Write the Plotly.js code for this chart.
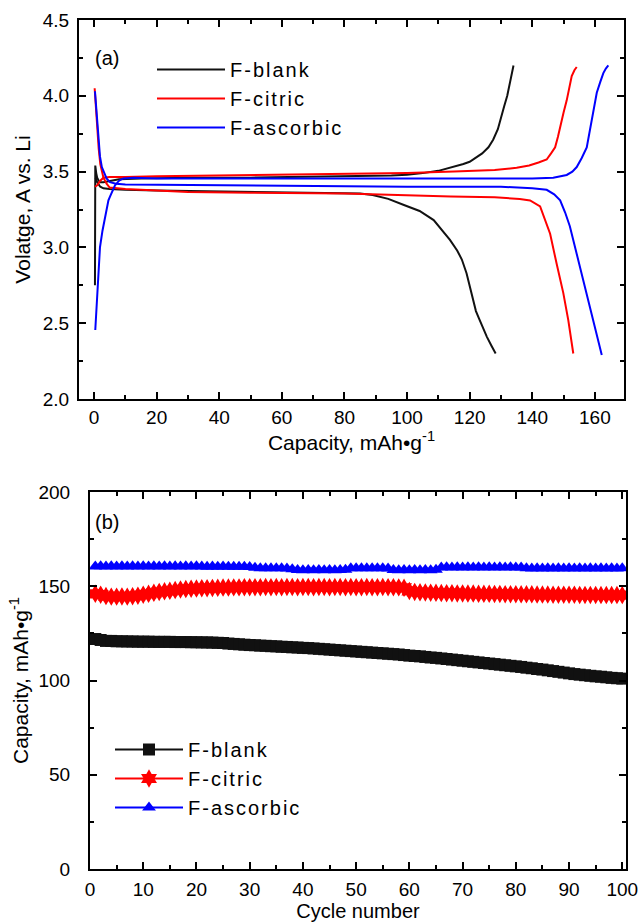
<!DOCTYPE html>
<html>
<head>
<meta charset="utf-8">
<script src="https://cdn.plot.ly/plotly-3.0.1.min.js"></script>
<style>
html,body{margin:0;padding:0;background:#fff;}
#chart{width:641px;height:924px;}
text.legendtext, text.legend2text{letter-spacing:2px;}
</style>
</head>
<body>
<div id="chart"></div>
<script>
// ---- (a) charge / discharge curves ----
const seriesNames = ["F-blank", "F-citric", "F-ascorbic"];

const blankChargeX = [0.3, 0.3, 0.35, 0.4, 0.7, 1, 1.5, 2, 3, 5, 8, 15, 30, 50, 70, 85, 95, 100, 105, 110, 115, 118, 120, 122, 124, 126, 127.5, 129, 130, 131, 132, 133, 134];
const blankChargeY = [2.75, 3.0, 3.3, 3.54, 3.49, 3.46, 3.44, 3.43, 3.43, 3.44, 3.45, 3.455, 3.46, 3.46, 3.465, 3.47, 3.475, 3.48, 3.49, 3.505, 3.53, 3.55, 3.565, 3.59, 3.62, 3.66, 3.71, 3.78, 3.86, 3.93, 4.0, 4.1, 4.2];
const blankDischargeX = [0.5, 1, 2, 3, 5, 10, 20, 40, 60, 75, 85, 89, 94, 99, 104, 108.5, 111, 113.7, 116, 117.5, 119, 120, 121, 122, 123, 124, 125.5, 127, 128.3];
const blankDischargeY = [3.46, 3.43, 3.40, 3.39, 3.385, 3.38, 3.375, 3.37, 3.365, 3.36, 3.355, 3.345, 3.32, 3.28, 3.24, 3.18, 3.12, 3.05, 2.98, 2.92, 2.83, 2.75, 2.66, 2.58, 2.53, 2.48, 2.41, 2.35, 2.30];

const citricChargeX = [0.3, 1, 2, 3, 5, 10, 20, 40, 60, 80, 100, 115, 128, 135, 139, 142, 144.6, 146, 147.3, 148.2, 148.9, 150, 151, 152, 152.6, 153.5, 154.2];
const citricChargeY = [3.40, 3.41, 3.44, 3.46, 3.465, 3.465, 3.47, 3.475, 3.48, 3.485, 3.49, 3.50, 3.51, 3.525, 3.54, 3.56, 3.58, 3.62, 3.66, 3.73, 3.80, 3.89, 3.97, 4.07, 4.13, 4.17, 4.19];
const citricDischargeX = [0.2, 0.5, 1, 1.5, 2, 3, 4, 5, 10, 20, 30, 50, 80, 114, 128, 136, 139.3, 142.5, 144, 145.7, 147.8, 149.9, 151.5, 153.1];
const citricDischargeY = [4.05, 3.95, 3.80, 3.65, 3.55, 3.46, 3.42, 3.395, 3.385, 3.375, 3.365, 3.36, 3.355, 3.335, 3.33, 3.32, 3.31, 3.27, 3.19, 3.09, 2.89, 2.70, 2.52, 2.30];

const ascorbicChargeX = [0.4, 0.85, 1.4, 1.9, 2.7, 3.5, 4.6, 5.1, 6, 6.7, 8, 9.4, 12.6, 20, 40, 80, 120, 140, 146.7, 149, 151, 152.8, 154.2, 155.8, 157.4, 158.2, 159, 159.8, 160.6, 161.7, 162.7, 163.5, 164.3];
const ascorbicChargeY = [2.455, 2.65, 2.83, 3.0, 3.11, 3.20, 3.31, 3.335, 3.38, 3.41, 3.44, 3.455, 3.46, 3.455, 3.455, 3.455, 3.455, 3.455, 3.46, 3.47, 3.478, 3.50, 3.53, 3.59, 3.66, 3.75, 3.84, 3.93, 4.02, 4.09, 4.15, 4.18, 4.20];
const ascorbicDischargeX = [0.3, 0.8, 1.3, 1.9, 2.5, 3.2, 4, 5.1, 7, 10, 40, 100, 130, 140, 144.6, 147, 148.9, 150.5, 152, 154.2, 156.3, 158.5, 160.6, 162.2];
const ascorbicDischargeY = [4.03, 3.90, 3.75, 3.60, 3.53, 3.49, 3.455, 3.43, 3.42, 3.415, 3.41, 3.40, 3.40, 3.39, 3.38, 3.35, 3.31, 3.23, 3.14, 2.96, 2.78, 2.61, 2.43, 2.29];

// ---- (b) cycling performance ----
const cycles = [];
for (let i = 1; i <= 100; i++) cycles.push(i);

const blankCapacity = [
 122, 121.5, 121, 121, 120.8, 120.8, 120.7, 120.7, 120.6, 120.6,
 120.6, 120.5, 120.5, 120.5, 120.5, 120.4, 120.4, 120.4, 120.3, 120.3,
 120.2, 120.2, 120.1, 120, 119.9, 119.6, 119.4, 119.2, 119, 118.8,
 118.7, 118.5, 118.4, 118.2, 118.1, 117.9, 117.8, 117.6, 117.5, 117.3,
 117.2, 117, 116.8, 116.6, 116.4, 116.2, 116, 115.8, 115.6, 115.4,
 115.2, 115, 114.8, 114.6, 114.4, 114.2, 114, 113.8, 113.5, 113.2,
 113, 112.8, 112.5, 112.2, 112, 111.7, 111.4, 111.1, 110.8, 110.5,
 110.2, 109.9, 109.6, 109.3, 109, 108.7, 108.4, 108.1, 107.8, 107.5,
 107.2, 106.8, 106.5, 106.1, 105.8, 105.4, 105, 104.6, 104.2, 103.8,
 103.4, 103.1, 102.8, 102.5, 102.2, 102, 101.7, 101.4, 101.2, 101
];
const citricCapacity = [
 146, 145.5, 144.8, 144.5, 144.5, 144.6, 144.5, 144.7, 145, 145.5,
 146, 146.5, 147, 147.3, 147.6, 148, 148.3, 148.5, 148.7, 148.8,
 149, 149, 149.1, 149.2, 149.3, 149.3, 149.4, 149.4, 149.5, 149.5,
 149.5, 149.5, 149.6, 149.5, 149.6, 149.5, 149.6, 149.6, 149.5, 149.6,
 149.6, 149.5, 149.6, 149.6, 149.5, 149.6, 149.6, 149.5, 149.6, 149.5,
 149.5, 149.6, 149.5, 149.5, 149.6, 149.5, 149.5, 149.4, 149.2, 147.5,
 147, 146.8, 146.7, 146.6, 146.5, 146.4, 146.3, 146.3, 146.2, 146.2,
 146.1, 146.1, 146, 146, 146, 145.9, 145.9, 145.8, 145.8, 145.8,
 145.7, 145.7, 145.7, 145.6, 145.6, 145.6, 145.5, 145.5, 145.5, 145.5,
 145.5, 145.4, 145.4, 145.4, 145.4, 145.3, 145.3, 145.3, 145.3, 145.3
];
const ascorbicCapacity = [
 160.5, 160.6, 160.5, 160.6, 160.5, 160.6, 160.5, 160.6, 160.5, 160.6,
 160.5, 160.6, 160.5, 160.6, 160.5, 160.6, 160.5, 160.6, 160.5, 160.6,
 160.5, 160.4, 160.5, 160.4, 160.5, 160.4, 160.3, 160.4, 160.3, 160.2,
 159.8, 159.6, 159.5, 159.6, 159.5, 159.5, 159.4, 159, 158.6, 158.5,
 158.6, 158.5, 158.6, 158.5, 158.6, 158.5, 158.6, 158.8, 159.5, 159.6,
 159.5, 159.6, 159.5, 159.6, 159.5, 159.4, 158.6, 158.5, 158.6, 158.5,
 158.6, 158.5, 158.6, 158.5, 158.8, 160, 160.1, 160, 160.1, 160,
 160.1, 160, 160.1, 160, 160.1, 160, 160.1, 160, 160.1, 160,
 160, 159.5, 159.4, 159.5, 159.4, 159.5, 159.4, 159.5, 159.4, 159.5,
 159.4, 159.5, 159.4, 159.5, 159.4, 159.5, 159.4, 159.5, 159.4, 159.5
];

const colors = ["#111111", "#ff0000", "#0000ff"];
const symbols = ["square", "hexagram", "triangle-up"];
const markerSizes = [12, 14, 12];

const FONT = "Liberation Sans, Arial, Helvetica, sans-serif";

function curve(x, y, i, show) {
  return {x: x, y: y, type: "scatter", mode: "lines", name: seriesNames[i],
    legendgroup: "a" + i, showlegend: show, legend: "legend",
    line: {color: colors[i], width: 2}, xaxis: "x", yaxis: "y", hoverinfo: "skip"};
}

const traces = [
  curve(blankChargeX, blankChargeY, 0, true),
  curve(blankDischargeX, blankDischargeY, 0, false),
  curve(citricChargeX, citricChargeY, 1, true),
  curve(citricDischargeX, citricDischargeY, 1, false),
  curve(ascorbicChargeX, ascorbicChargeY, 2, true),
  curve(ascorbicDischargeX, ascorbicDischargeY, 2, false)
];

const capSeries = [blankCapacity, citricCapacity, ascorbicCapacity];
capSeries.forEach(function (vals, i) {
  traces.push({x: cycles, y: vals, type: "scatter", mode: "lines+markers",
    name: seriesNames[i], legend: "legend2", legendgroup: "b" + i,
    line: {color: colors[i], width: 2},
    marker: {symbol: symbols[i], size: markerSizes[i], color: colors[i]},
    xaxis: "x2", yaxis: "y2", hoverinfo: "skip"});
});

const axisCommon = {
  showline: true, linecolor: "#000", linewidth: 2, mirror: "ticks",
  ticks: "inside", ticklen: 7, tickwidth: 2, tickcolor: "#000",
  showgrid: false, zeroline: false,
  tickfont: {family: FONT, size: 19, color: "#000"},
  automargin: false
};

const layout = {
  width: 641, height: 924,
  margin: {l: 0, r: 0, t: 0, b: 0},
  paper_bgcolor: "#fff", plot_bgcolor: "#fff",
  font: {family: FONT, color: "#000"},
  showlegend: true,
  xaxis: Object.assign({}, axisCommon, {
    domain: [79/641, 624/641], range: [-4.8, 169.3], anchor: "y",
    tick0: 0, dtick: 20, ticklabelstandoff: 0,
    minor: {ticks: "inside", ticklen: 4, dtick: 10, tickwidth: 2, tickcolor: "#000", showgrid: false},
    title: {text: "Capacity, mAh•g<sup>-1</sup>", font: {family: FONT, size: 21}, standoff: 0}
  }),
  yaxis: Object.assign({}, axisCommon, {
    domain: [1 - 399/924, 1 - 20/924], range: [2, 4.5], anchor: "x",
    tick0: 2, dtick: 0.5, tickformat: ".1f", ticklabelstandoff: 4,
    minor: {ticks: "inside", ticklen: 4, dtick: 0.25, tickwidth: 2, tickcolor: "#000", showgrid: false},
    title: {text: "Volatge, A vs. Li", font: {family: FONT, size: 21}, standoff: 6}
  }),
  xaxis2: Object.assign({}, axisCommon, {
    domain: [90/641, 626/641], range: [0, 100.7], anchor: "y2",
    tick0: 0, dtick: 10, ticklabelstandoff: 2,
    minor: {ticks: "inside", ticklen: 4, dtick: 5, tickwidth: 2, tickcolor: "#000", showgrid: false},
    title: {text: "Cycle number", font: {family: FONT, size: 20}, standoff: 2}
  }),
  yaxis2: Object.assign({}, axisCommon, {
    domain: [1 - 869/924, 1 - 492/924], range: [0, 200], anchor: "x2",
    tick0: 0, dtick: 50, ticklabelstandoff: 14,
    minor: {ticks: "inside", ticklen: 4, dtick: 25, tickwidth: 2, tickcolor: "#000", showgrid: false},
    title: {text: "Capacity, mAh•g<sup>-1</sup>", font: {family: FONT, size: 21}, standoff: 4}
  }),
  legend: {
    x: 152/641, y: 1 - 50/924, xanchor: "left", yanchor: "top",
    bgcolor: "rgba(0,0,0,0)", borderwidth: 0, itemwidth: 68,
    font: {family: FONT, size: 20, color: "#000"},
    traceorder: "normal", tracegroupgap: 0
  },
  legend2: {
    x: 110/641, y: 1 - 730/924, xanchor: "left", yanchor: "top",
    bgcolor: "rgba(0,0,0,0)", borderwidth: 0, itemwidth: 68,
    font: {family: FONT, size: 20, color: "#000"},
    traceorder: "normal", tracegroupgap: 3
  },
  annotations: [
    {text: "(a)", xref: "paper", yref: "paper", x: 93/641, y: 1 - 58/924,
     xanchor: "left", yanchor: "middle", showarrow: false, font: {family: FONT, size: 20}},
    {text: "(b)", xref: "paper", yref: "paper", x: 93/641, y: 1 - 522/924,
     xanchor: "left", yanchor: "middle", showarrow: false, font: {family: FONT, size: 20}}
  ]
};

Plotly.newPlot("chart", traces, layout, {displayModeBar: false, staticPlot: true});
</script>
</body>
</html>
